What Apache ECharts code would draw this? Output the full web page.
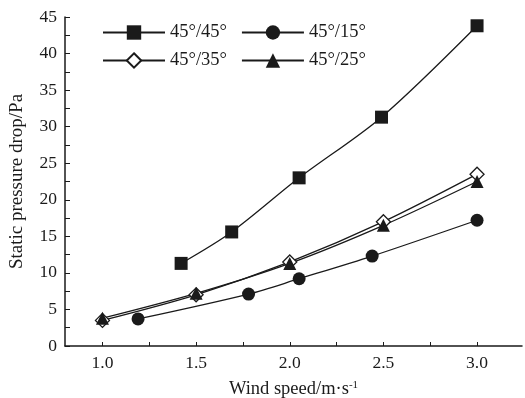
<!DOCTYPE html>
<html>
<head>
<meta charset="utf-8">
<script src="https://cdn.jsdelivr.net/npm/echarts@6/dist/echarts.min.js"></script>
<style>
  html, body { margin: 0; padding: 0; background: #fff; }
  #main { width: 525px; height: 398px; }
</style>
</head>
<body>
<div id="main"></div>
<script>
// data
var names = ['45°/45°', '45°/15°', '45°/35°', '45°/25°'];
var s4545 = [[1.42, 11.3], [1.69, 15.6], [2.05, 23.0], [2.49, 31.3], [3.0, 43.8]];
var s4515 = [[1.19, 3.7], [1.78, 7.1], [2.05, 9.2], [2.44, 12.3], [3.0, 17.2]];
var s4535 = [[1.0, 3.5], [1.5, 7.0], [2.0, 11.5], [2.5, 17.0], [3.0, 23.5]];
var s4525 = [[1.0, 3.8], [1.5, 7.2], [2.0, 11.3], [2.5, 16.5], [3.0, 22.5]];
var xLabels = [1.0, 1.5, 2.0, 2.5, 3.0];
var xTicks = [1.0, 1.25, 1.5, 1.75, 2.0, 2.25, 2.5, 2.75, 3.0];

var font = 'Liberation Serif, Times New Roman, serif';
var ink = '#1a1a1a';

var myChart = echarts.init(document.getElementById('main'));

function mkSeries(name, data, symbol, filled) {
  return {
    name: name,
    type: 'line',
    data: data,
    smooth: 0.3,
    symbol: symbol,
    symbolSize: symbol == 'diamond' ? 14 : 13,
    showSymbol: true,
    lineStyle: { color: ink, width: 1.3 },
    itemStyle: {
      color: filled ? ink : '#fff',
      borderColor: ink,
      borderWidth: filled ? 0 : 1.3
    },
    emphasis: { disabled: true }
  };
}

var legendText = { fontFamily: font, fontSize: 18.5, color: ink };

var option = {
  backgroundColor: '#fff',
  animation: false,
  grid: { left: 65, right: 3, top: 17, bottom: 52, outerBoundsMode: 'none', containLabel: false },
  legend: [
    {
      data: [names[0], names[1]],
      left: 97, top: 18,
      itemWidth: 62, itemHeight: 18, itemGap: 14,
      textStyle: legendText
    },
    {
      data: [names[2], names[3]],
      left: 97, top: 46,
      itemWidth: 62, itemHeight: 18, itemGap: 14,
      textStyle: legendText
    }
  ],
  xAxis: {
    type: 'value',
    min: 0.8, max: 3.24,
    name: 'Wind speed/m·s{sup|-1}',
    nameLocation: 'middle',
    nameGap: 34,
    nameTextStyle: {
      fontFamily: font, fontSize: 18.5, color: ink,
      rich: { sup: { fontFamily: font, fontSize: 11, color: ink, verticalAlign: 'top', padding: [0, 0, 8, 0] } }
    },
    splitLine: { show: false },
    axisLine: { lineStyle: { color: ink, width: 1.5 } },
    axisTick: { inside: true, length: 4, customValues: xTicks, lineStyle: { color: ink } },
    axisLabel: {
      customValues: xLabels,
      fontFamily: font, fontSize: 17.5, color: ink, margin: 8,
      formatter: function (v) { return v.toFixed(1); }
    }
  },
  yAxis: {
    type: 'value',
    min: 0, max: 45, interval: 5,
    name: 'Static pressure drop/Pa',
    nameLocation: 'middle',
    nameGap: 38,
    nameTextStyle: { fontFamily: font, fontSize: 19, color: ink },
    splitLine: { show: false },
    axisLine: { show: true, lineStyle: { color: ink, width: 1.5 } },
    axisTick: { inside: true, length: 5, lineStyle: { color: ink } },
    minorTick: { show: true, splitNumber: 2, length: 5, lineStyle: { color: ink } },
    minorSplitLine: { show: false },
    axisLabel: { fontFamily: font, fontSize: 17.5, color: ink, margin: 8 }
  },
  series: [
    mkSeries(names[0], s4545, 'rect', true),
    mkSeries(names[1], s4515, 'circle', true),
    mkSeries(names[2], s4535, 'diamond', false),
    mkSeries(names[3], s4525, 'triangle', true)
  ]
};

myChart.setOption(option);
</script>
</body>
</html>
